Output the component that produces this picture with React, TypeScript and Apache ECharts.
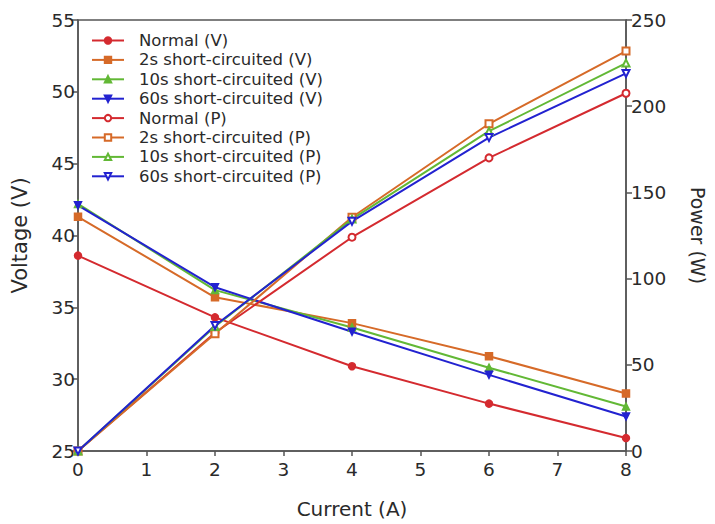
import React, { useEffect, useRef } from "react";
import * as echarts from "echarts";

// Current steps (A)
const current = [0, 2, 4, 6, 8];

// Terminal voltage (V)
const normalV = [38.6, 34.3, 30.9, 28.3, 25.9];
const short2sV = [41.3, 35.7, 33.9, 31.6, 29.0];
const short10sV = [42.2, 36.2, 33.6, 30.8, 28.1];
const short60sV = [42.1, 36.4, 33.3, 30.3, 27.4];

// Output power (W)
const normalP = [0, 68.6, 124, 170, 207.5];
const short2sP = [0, 68.0, 135.6, 189.8, 232];
const short10sP = [0, 72.2, 134.5, 185.5, 225];
const short60sP = [0, 72.8, 133.2, 181.8, 219];

const RED = "#d42a2f";
const ORANGE = "#d66a28";
const GREEN = "#62b835";
const BLUE = "#2222d0";

const FONT = "DejaVu Sans";
const TEXT = "#2a2a2a";
const AXIS = "#555555";

type Spec = {
  name: string;
  values: number[];
  color: string;
  symbol: string;
  rotate?: number;
  yAxisIndex: number;
};

const specs: Spec[] = [
  { name: "Normal (V)", values: normalV, color: RED, symbol: "circle", yAxisIndex: 0 },
  { name: "2s short-circuited (V)", values: short2sV, color: ORANGE, symbol: "rect", yAxisIndex: 0 },
  { name: "10s short-circuited (V)", values: short10sV, color: GREEN, symbol: "triangle", yAxisIndex: 0 },
  { name: "60s short-circuited (V)", values: short60sV, color: BLUE, symbol: "triangle", rotate: 180, yAxisIndex: 0 },
  { name: "Normal (P)", values: normalP, color: RED, symbol: "emptyCircle", yAxisIndex: 1 },
  { name: "2s short-circuited (P)", values: short2sP, color: ORANGE, symbol: "emptyRect", yAxisIndex: 1 },
  { name: "10s short-circuited (P)", values: short10sP, color: GREEN, symbol: "emptyTriangle", yAxisIndex: 1 },
  { name: "60s short-circuited (P)", values: short60sP, color: BLUE, symbol: "emptyTriangle", rotate: 180, yAxisIndex: 1 },
];

export default function App() {
  const ref = useRef<HTMLDivElement>(null);

  useEffect(() => {
    document.body.style.margin = "0";
    if (!ref.current) return;
    const chart = echarts.init(ref.current, undefined, { renderer: "svg" });

    const axisCommon = {
      axisLine: { show: true, lineStyle: { color: AXIS, width: 1.5 } },
      splitLine: { show: false },
      nameTextStyle: { fontFamily: FONT, fontSize: 20, color: TEXT },
    };
    const labelStyle = { fontFamily: FONT, fontSize: 18.5, color: TEXT };
    const tick = (length: number) => ({
      show: true,
      inside: false,
      length,
      lineStyle: { color: AXIS, width: 1.5 },
    });

    chart.setOption({
      animation: false,
      backgroundColor: "#ffffff",
      grid: {
        left: 78,
        right: 86,
        top: 20,
        bottom: 64,
        show: true,
        borderColor: AXIS,
        borderWidth: 1.5,
        backgroundColor: "transparent",
      },
      legend: {
        orient: "vertical",
        left: 86,
        top: 27,
        itemWidth: 32,
        itemHeight: 8,
        itemGap: 2.4,
        data: specs.map((s) => s.name),
        textStyle: {
          fontFamily: FONT,
          fontSize: 16.5,
          lineHeight: 17,
          color: TEXT,
          padding: [0, 0, 0, 10],
        },
      },
      xAxis: {
        type: "value",
        min: 0,
        max: 8,
        interval: 1,
        name: "Current (A)",
        nameLocation: "middle",
        nameGap: 48,
        ...axisCommon,
        axisTick: tick(5),
        axisLabel: { ...labelStyle, margin: 9 },
      },
      yAxis: [
        {
          type: "value",
          min: 25,
          max: 55,
          interval: 5,
          name: "Voltage (V)",
          nameLocation: "middle",
          nameRotate: 90,
          nameGap: 48,
          position: "left",
          ...axisCommon,
          nameTextStyle: { ...axisCommon.nameTextStyle, fontSize: 21 },
          axisTick: tick(6),
          axisLabel: { ...labelStyle, margin: 3 },
        },
        {
          type: "value",
          min: 0,
          max: 250,
          interval: 50,
          name: "Power (W)",
          nameLocation: "middle",
          nameRotate: -90,
          nameGap: 62,
          position: "right",
          ...axisCommon,
          nameTextStyle: { ...axisCommon.nameTextStyle, fontSize: 19 },
          axisTick: tick(6),
          axisLabel: { ...labelStyle, margin: 5 },
        },
      ],
      series: specs.map((s) => ({
        name: s.name,
        type: "line",
        yAxisIndex: s.yAxisIndex,
        data: current.map((c, i) => [c, s.values[i]]),
        symbol: s.symbol,
        symbolRotate: s.rotate ?? 0,
        symbolSize: 7,
        showSymbol: true,
        lineStyle: { color: s.color, width: 2 },
        itemStyle: { color: s.color, borderColor: s.color, borderWidth: 1.5 },
        z: 2,
      })),
    });

    return () => chart.dispose();
  }, []);

  return <div ref={ref} style={{ width: 715, height: 524 }} />;
}
